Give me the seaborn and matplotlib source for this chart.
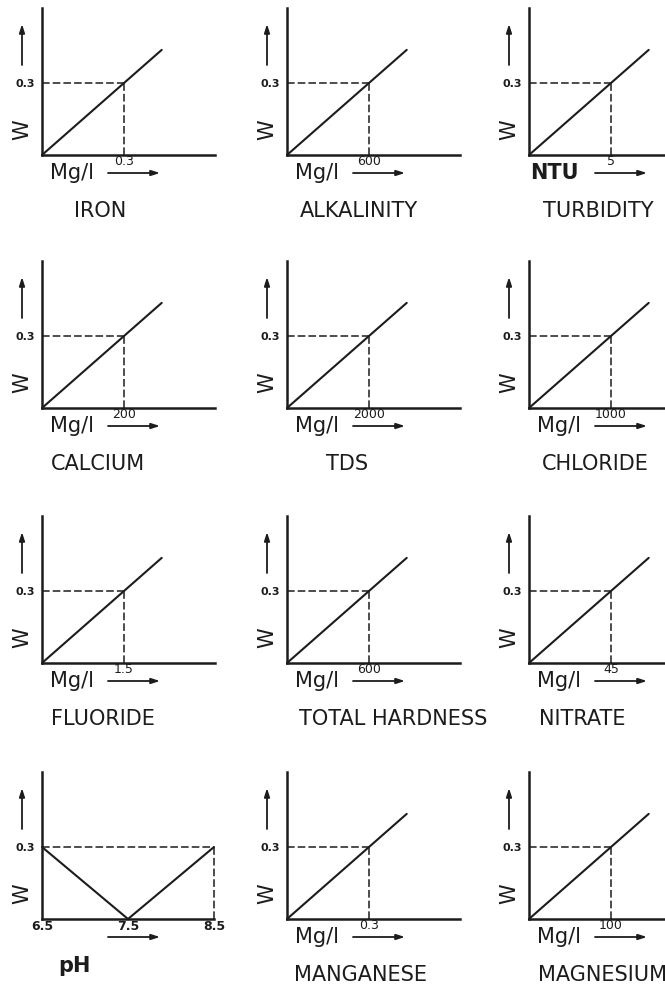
import matplotlib
matplotlib.use("Agg")
import matplotlib.pyplot as plt
import seaborn as sns
import pandas as pd

# ---------------- data ----------------
params = ["IRON", "ALKALINITY", "TURBIDITY", "CALCIUM", "TDS", "CHLORIDE",
          "FLUORIDE", "TOTAL HARDNESS", "NITRATE", "pH", "MANGANESE", "MAGNESIUM"]
units = ["Mg/l", "Mg/l", "NTU", "Mg/l", "Mg/l", "Mg/l",
         "Mg/l", "Mg/l", "Mg/l", "", "Mg/l", "Mg/l"]
limits = [0.3, 600, 5, 200, 2000, 1000, 1.5, 600, 45, None, 0.3, 100]
limit_labels = ["0.3", "600", "5", "200", "2000", "1000",
                "1.5", "600", "45", "", "0.3", "100"]
weight = 0.3
weight_label = "0.3"
ph_values = [6.5, 7.5, 8.5]
ph_weights = [0.3, 0.0, 0.3]
ph_labels = ["6.5", "7.5", "8.5"]

# ---------------- style / layout ----------------
sns.set_style("white")
plt.rcParams["font.family"] = ["DejaVu Sans"]

W, H = 665, 985
fig = plt.figure(figsize=(W / 100, H / 100), dpi=100)
fig.patch.set_facecolor("white")

col_x = [42, 287, 529]
row_bottom = [155, 408, 663, 919]
ax_w, ax_h = 173, 147
px_limit, px_w = 82, 72        # pixel distance from origin to the 0.3 / limit point
line_ext = 1.46                # how far the diagonal runs beyond the limit point
title_cx = [100, 359, 598, 98, 347, 595, 103, 393, 582, 74, 361, 602]
ink = "#1c1c1c"


def ftext(x, y, s, **kw):
    fig.text(x / W, 1 - y / H, s, **kw)


def farrow(x0, y0, x1, y1):
    fig.add_artist(matplotlib.patches.FancyArrowPatch(
        (x0 / W, 1 - y0 / H), (x1 / W, 1 - y1 / H), transform=fig.transFigure,
        arrowstyle="-|>,head_length=5,head_width=1.6", color=ink, lw=1.3,
        mutation_scale=1, shrinkA=0, shrinkB=0))


for i, name in enumerate(params):
    r, c = divmod(i, 3)
    x0, yb = col_x[c], row_bottom[r]
    is_ph = name == "pH"
    width = 172 if is_ph else ax_w
    ax = fig.add_axes([x0 / W, (H - yb) / H, width / W, ax_h / H])
    ax.patch.set_alpha(0)
    ymax = weight * ax_h / px_w
    ax.set_ylim(0, ymax)

    if is_ph:
        ax.set_xlim(ph_values[0], ph_values[-1])
        df = pd.DataFrame({"x": ph_values, "w": ph_weights})
        sns.lineplot(data=df, x="x", y="w", ax=ax, color=ink, lw=1.5,
                     clip_on=False, marker=None)
        ax.plot([ph_values[0], ph_values[-1]], [weight, weight], ls=(0, (5, 2)),
                color=ink, lw=1.1, clip_on=False)
        ax.plot([ph_values[-1], ph_values[-1]], [0, weight], ls=(0, (5, 2)),
                color=ink, lw=1.1, clip_on=False)
        ax.set_xticks(ph_values)
        ax.set_xticklabels(ph_labels, fontsize=9, fontweight="bold", color=ink)
        ax.tick_params(axis="x", length=0, pad=1)
    else:
        lim = limits[i]
        ax.set_xlim(0, lim * ax_w / px_limit)
        df = pd.DataFrame({"x": [0, lim * line_ext], "w": [0, weight * line_ext]})
        sns.lineplot(data=df, x="x", y="w", ax=ax, color=ink, lw=1.5, clip_on=False)
        ax.plot([0, lim], [weight, weight], ls=(0, (5, 2)), color=ink, lw=1.1)
        ax.plot([lim, lim], [0, weight], ls=(0, (5, 2)), color=ink, lw=1.1)
        ax.set_xticks([lim])
        ax.set_xticklabels([limit_labels[i]], fontsize=9, color=ink)
        ax.tick_params(axis="x", length=0, pad=0)
        # unit label
        ux = x0 + (1 if units[i] == "NTU" else 8)
        ftext(ux, yb + 18, units[i], fontsize=15, color=ink,
              fontweight="bold" if units[i] == "NTU" else "normal",
              ha="left", va="center")

    ax.set_yticks([weight])
    ax.set_yticklabels([weight_label], fontsize=8, fontweight="bold", color=ink)
    ax.tick_params(axis="y", length=0, pad=5)
    ax.set_xlabel("")
    ax.set_ylabel("")
    for s in ["top", "right"]:
        ax.spines[s].set_visible(False)
    for s in ["left", "bottom"]:
        ax.spines[s].set_color(ink)
        ax.spines[s].set_linewidth(1.8)

    # W label and arrows
    ftext(x0 - 20, yb - 25, "W", fontsize=15, rotation=90, color=ink,
          ha="center", va="center")
    farrow(x0 - 20, yb - 90, x0 - 20, yb - 131)
    farrow(x0 + 66, yb + 18, x0 + 118, yb + 18)

    # title
    ftext(title_cx[i], yb + (47 if is_ph else 56), name, fontsize=15, color=ink,
          fontweight="bold" if is_ph else "normal", ha="center", va="center")

fig.savefig("out.png", dpi=100, facecolor="white")
